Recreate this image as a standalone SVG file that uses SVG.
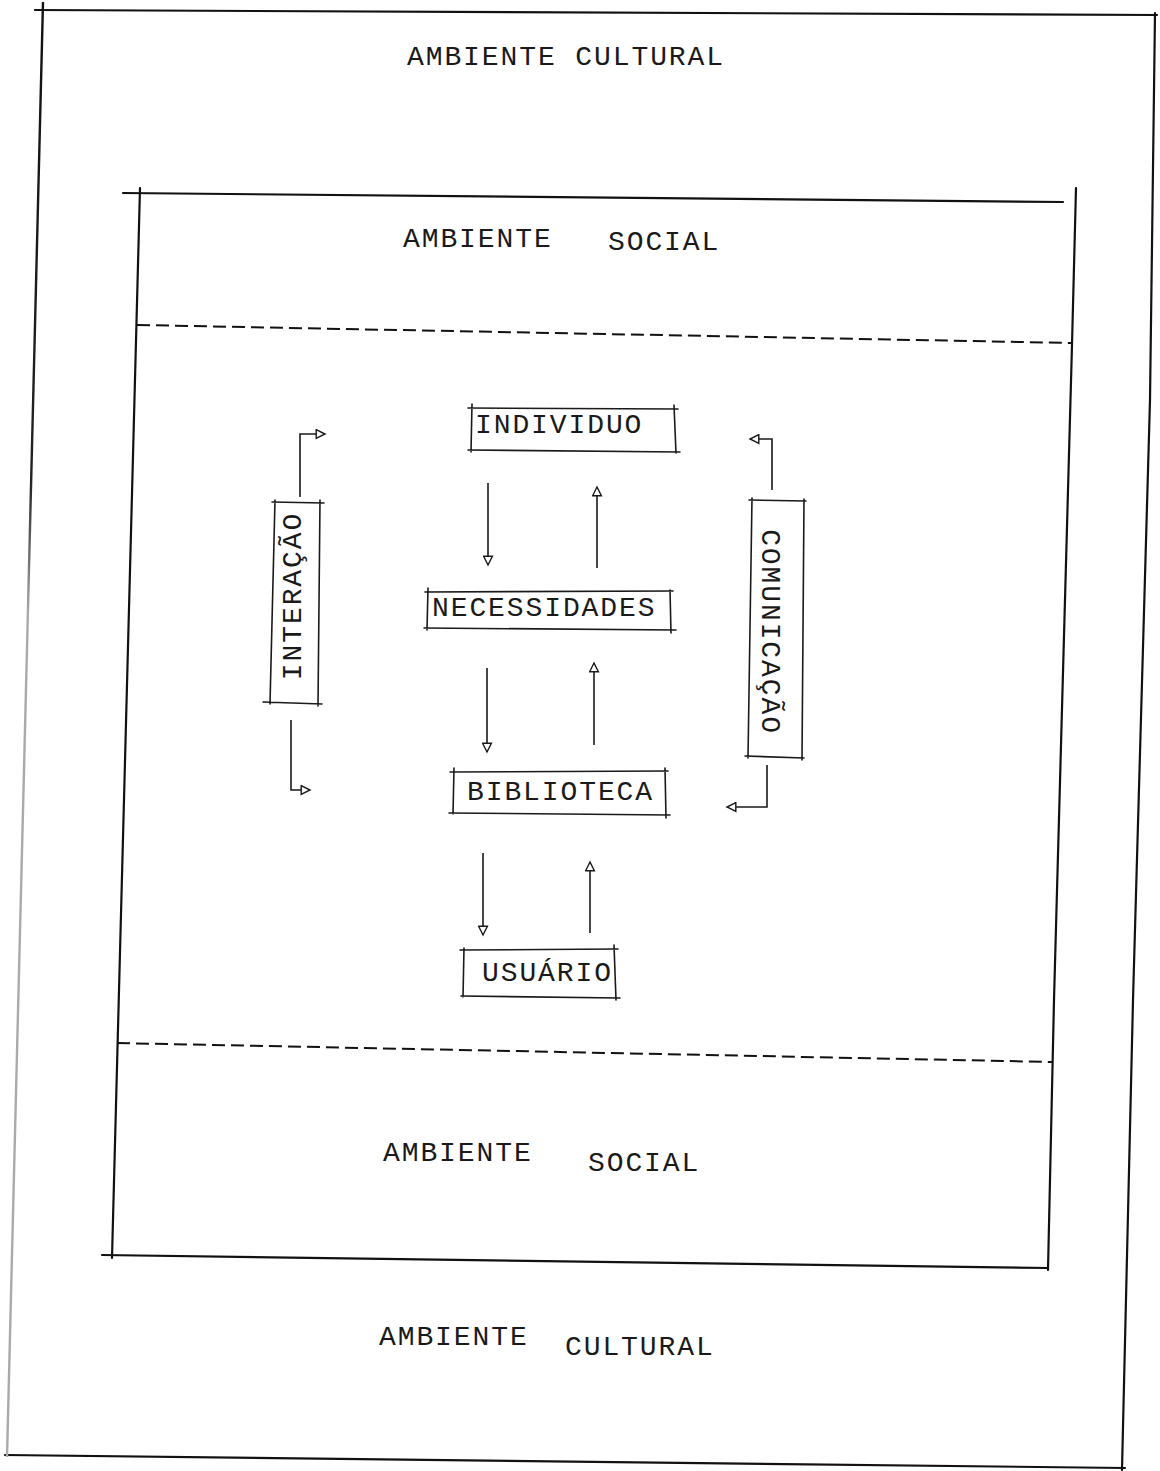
<svg xmlns="http://www.w3.org/2000/svg" width="1160" height="1471" viewBox="0 0 1160 1471">
<style>
  .frame { fill: none; stroke: #111; stroke-width: 2.2; stroke-linecap: round; }
  .dash { fill: none; stroke: #111; stroke-width: 2; stroke-dasharray: 13 6; }
  .box { fill: none; stroke: #1a1a1a; stroke-width: 1.6; stroke-linecap: round; }
  .conn { fill: none; stroke: #1a1a1a; stroke-width: 1.6; }
  .lbl { font-family: "Liberation Mono", "DejaVu Sans Mono", monospace; font-size: 28px; letter-spacing: 1.9px; fill: #1a1a1a; }
</style>
<defs>
  <linearGradient id="fade" gradientUnits="userSpaceOnUse" x1="0" y1="0" x2="0" y2="1457">
    <stop offset="0" stop-color="#111"/>
    <stop offset="0.33" stop-color="#222"/>
    <stop offset="0.42" stop-color="#aaa"/>
    <stop offset="1" stop-color="#aaa"/>
  </linearGradient>
  <marker id="arr" viewBox="0 0 10 10" refX="9" refY="5" markerWidth="12" markerHeight="11" markerUnits="userSpaceOnUse" orient="auto">
    <path d="M1,1 L9,5 L1,9 Z" fill="#fff" stroke="#1a1a1a" stroke-width="1.3"/>
  </marker>
</defs>
<rect width="1160" height="1471" fill="#fff"/>

<g id="outer-frame">
  <path class="frame" d="M35,10 L1157,15"/>
  <path class="frame" d="M1155,13 L1150,400 L1133,1000 L1122,1470"/>
  <path class="frame" d="M5,1455 L1125,1468"/>
  <path d="M43,2 L7,1457" fill="none" stroke="url(#fade)" stroke-width="2.4"/>
</g>

<g id="inner-frame">
  <path class="frame" d="M123,193 L1063,202"/>
  <path class="frame" d="M140,188 L112,1258"/>
  <path class="frame" d="M1076,188 L1072,345 L1054,1000 L1048,1270"/>
  <path class="frame" d="M102,1255 L1048,1268"/>
  <path class="dash" d="M137,325 L1072,343"/>
  <path class="dash" d="M117,1043 L1053,1062"/>
</g>

<g id="labels">
  <text class="lbl" x="407" y="65">AMBIENTE CULTURAL</text>
  <text class="lbl" x="403" y="247">AMBIENTE</text>
  <text class="lbl" x="608" y="250">SOCIAL</text>
  <text class="lbl" x="383" y="1161">AMBIENTE</text>
  <text class="lbl" x="588" y="1171">SOCIAL</text>
  <text class="lbl" x="379" y="1345">AMBIENTE</text>
  <text class="lbl" x="565" y="1355">CULTURAL</text>
</g>

<g id="node-individuo">
  <path class="box" d="M468,408 L678,409 M472,404 L471,452 M674,405 L676,453 M468,450 L680,452"/>
  <text class="lbl" x="475" y="433">INDIVIDUO</text>
</g>
<g id="node-necessidades">
  <path class="box" d="M425,592 L673,591 M428,588 L427,630 M670,590 L671,633 M424,628 L676,630"/>
  <text class="lbl" x="432" y="616">NECESSIDADES</text>
</g>
<g id="node-biblioteca">
  <path class="box" d="M450,772 L668,771 M454,768 L453,814 M665,768 L666,818 M449,813 L670,815"/>
  <text class="lbl" x="467" y="800">BIBLIOTECA</text>
</g>
<g id="node-usuario">
  <path class="box" d="M460,950 L618,949 M464,948 L463,997 M614,945 L616,1000 M461,996 L620,998"/>
  <text class="lbl" x="482" y="981">USUÁRIO</text>
</g>
<g id="node-interacao">
  <path class="box" d="M272,502 L324,503 M275,500 L270,704 M320,500 L318,706 M263,702 L322,704"/>
  <text class="lbl" text-anchor="middle" transform="translate(301,596) rotate(-90)">INTERAÇÃO</text>
</g>
<g id="node-comunicacao">
  <path class="box" d="M749,500 L806,501 M752,498 L748,758 M804,499 L802,760 M745,756 L804,758"/>
  <text class="lbl" text-anchor="middle" transform="translate(762,632) rotate(90)">COMUNICAÇÃO</text>
</g>

<g id="connectors">
  <path class="conn" marker-end="url(#arr)" d="M488,483 L488,565"/>
  <path class="conn" marker-end="url(#arr)" d="M597,568 L597,487"/>
  <path class="conn" marker-end="url(#arr)" d="M487,668 L487,752"/>
  <path class="conn" marker-end="url(#arr)" d="M594,745 L594,663"/>
  <path class="conn" marker-end="url(#arr)" d="M483,853 L483,935"/>
  <path class="conn" marker-end="url(#arr)" d="M590,933 L590,862"/>
  <path class="conn" marker-end="url(#arr)" d="M300,497 L300,434 L325,434"/>
  <path class="conn" marker-end="url(#arr)" d="M291,720 L291,790 L310,790"/>
  <path class="conn" marker-end="url(#arr)" d="M772,490 L772,439 L750,439"/>
  <path class="conn" marker-end="url(#arr)" d="M767,765 L767,807 L727,807"/>
</g>
</svg>
